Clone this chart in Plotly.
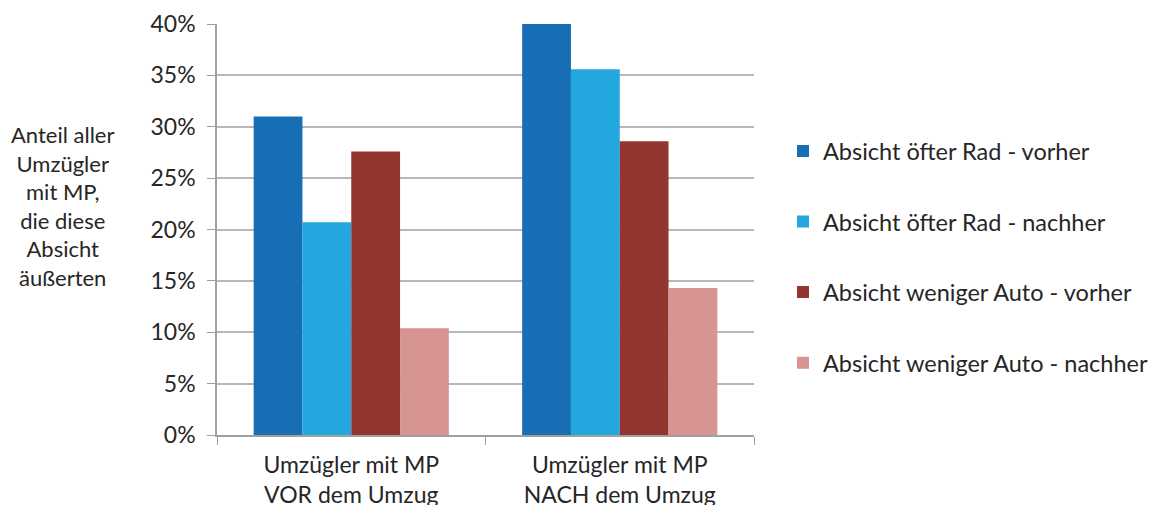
import plotly.graph_objects as go

categories = ["Umzügler mit MP<br>VOR dem Umzug", "Umzügler mit MP<br>NACH dem Umzug"]
series_names = [
    "Absicht öfter Rad - vorher",
    "Absicht öfter Rad - nachher",
    "Absicht weniger Auto - vorher",
    "Absicht weniger Auto - nachher",
]
rad_vorher = [0.310, 0.400]
rad_nachher = [0.207, 0.356]
auto_vorher = [0.276, 0.286]
auto_nachher = [0.104, 0.143]
colors = ["#176EB5", "#23A7DF", "#943630", "#D69592"]
tick_vals = [0, 0.05, 0.10, 0.15, 0.20, 0.25, 0.30, 0.35, 0.40]

FONT = "Lato"
TXT = "#262626"

fig = go.Figure()
for i, (name, vals) in enumerate(zip(series_names, [rad_vorher, rad_nachher, auto_vorher, auto_nachher])):
    fig.add_trace(go.Bar(
        x=categories, y=vals, name=name, marker_color=colors[i],
        marker_line_width=0, legendgroup=f"g{i}",
    ))

fig.update_layout(
    width=1162, height=505,
    margin=dict(l=209, r=416, t=16, b=78, autoexpand=False),
    paper_bgcolor="white", plot_bgcolor="white",
    barmode="group", bargap=0.273, bargroupgap=0,
    font=dict(family=FONT, size=23, color=TXT),
    showlegend=True,
    legend=dict(x=1.054, y=0.744, xanchor="left", yanchor="top",
                font=dict(family=FONT, size=23.5, color=TXT),
                tracegroupgap=37, itemwidth=30, traceorder="grouped"),
)
fig.update_yaxes(
    range=[0, 0.40], tickvals=tick_vals, tickformat=".0%",
    showgrid=True, gridcolor="#B8B8B8", gridwidth=1.6,
    showline=True, linecolor="#A0A0A0", linewidth=1.5,
    ticks="outside", ticklen=8, tickcolor="#A0A0A0", ticklabelstandoff=7,
    zeroline=False, tickfont=dict(size=23), automargin=False,
)
fig.update_xaxes(
    showline=True, linecolor="#A0A0A0", linewidth=1.5,
    ticks="outside", ticklen=8, tickcolor="#A0A0A0", tickson="boundaries",
    tickfont=dict(size=23), mirror=False, ticklabelstandoff=9, automargin=False,
)
fig.add_annotation(
    text="Anteil aller<br>Umzügler<br>mit MP,<br>die diese<br>Absicht<br>äußerten",
    xref="paper", yref="paper", x=-0.2886, y=0.557, xanchor="center", yanchor="middle",
    showarrow=False, align="center", font=dict(family=FONT, size=22, color=TXT),
)
fig.write_html("out.html")
